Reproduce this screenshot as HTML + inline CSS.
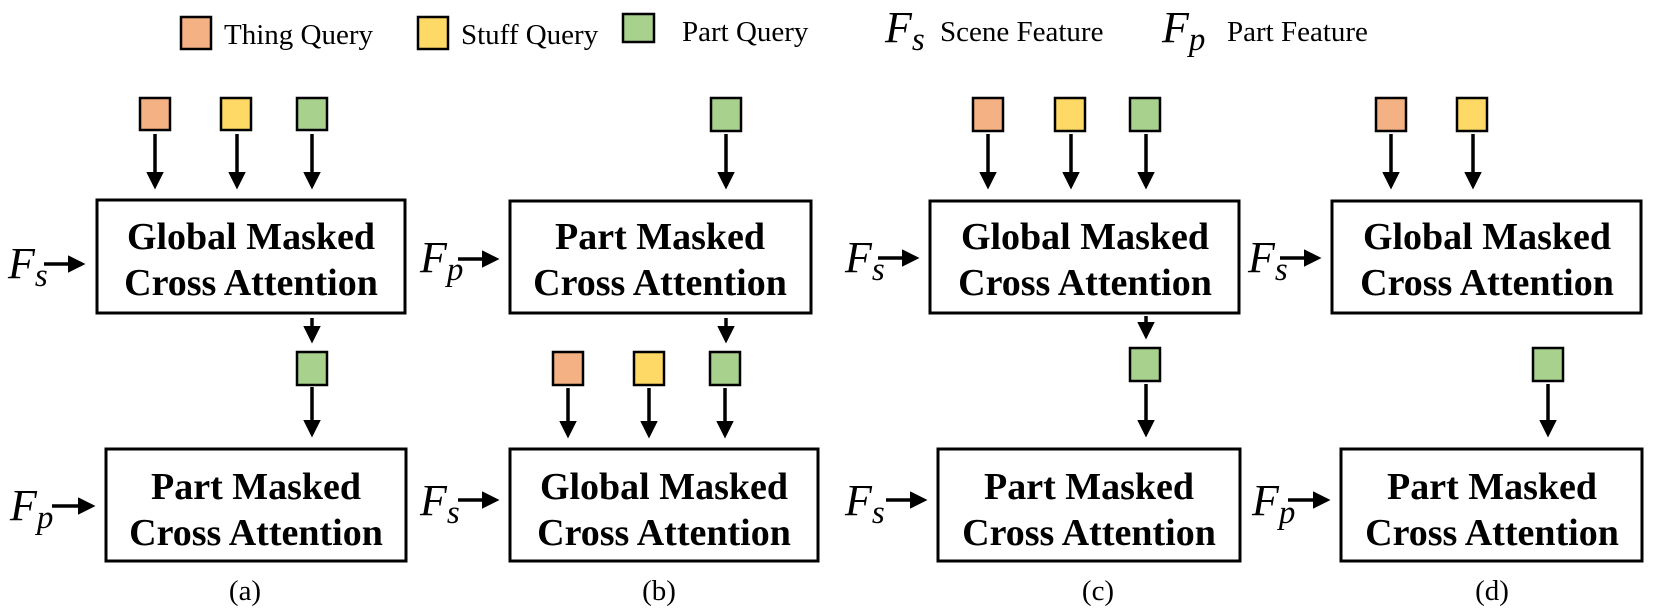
<!DOCTYPE html>
<html><head><meta charset="utf-8"><style>
html,body{margin:0;padding:0;background:#fff;}
svg{display:block;}
.bt{font-family:"Liberation Serif","Times New Roman",serif;font-weight:700;font-size:38px;text-anchor:middle;}
.lg{font-family:"Liberation Serif","Times New Roman",serif;font-size:29px;}
.lg2{font-family:"Liberation Serif","Times New Roman",serif;font-size:29px;}
.f{font-family:"Liberation Serif",serif;font-style:italic;font-size:44px;}
.fs{font-family:"Liberation Serif",serif;font-style:italic;font-size:33px;}
.cap{font-family:"Liberation Serif",serif;font-size:29px;text-anchor:middle;}
.o{fill:#F4B183;stroke:#000;stroke-width:2.5}
.y{fill:#FFD966;stroke:#000;stroke-width:2.5}
.g{fill:#A9D18E;stroke:#000;stroke-width:2.5}
.bx{fill:#fff;stroke:#000;stroke-width:3}
.ar{stroke:#000;stroke-width:3.5;fill:none;marker-end:url(#ah)}
</style></head><body>
<svg width="1662" height="613" viewBox="0 0 1662 613" xmlns="http://www.w3.org/2000/svg">
<defs><marker id="ah" markerWidth="5" markerHeight="5" refX="4" refY="2.5" orient="auto" markerUnits="strokeWidth"><path d="M0,0 L5,2.5 L0,5 z" fill="#000"/></marker></defs>

<!-- legend -->
<rect class="o" x="181" y="17" width="30" height="32"/>
<text class="lg" x="224" y="44">Thing Query</text>
<rect class="y" x="418" y="17" width="30" height="32"/>
<text class="lg" x="461" y="44">Stuff Query</text>
<rect class="g" x="623" y="14" width="31" height="28"/>
<text class="lg" x="682" y="41">Part Query</text>
<text class="f" x="885" y="42">F<tspan class="fs" dy="8">s</tspan></text>
<text class="lg2" x="940" y="41">Scene Feature</text>
<text class="f" x="1162" y="42">F<tspan class="fs" dy="8">p</tspan></text>
<text class="lg2" x="1227" y="41">Part Feature</text>

<!-- (a) -->
<rect class="o" x="140" y="98" width="30" height="32"/>
<rect class="y" x="221" y="98" width="30" height="32"/>
<rect class="g" x="297" y="98" width="30" height="32"/>
<line class="ar" x1="155" y1="134" x2="155" y2="186"/>
<line class="ar" x1="237" y1="134" x2="237" y2="186"/>
<line class="ar" x1="312" y1="134" x2="312" y2="186"/>
<rect class="bx" x="97" y="200" width="308" height="113"/>
<text class="bt" x="251" y="249">Global Masked</text>
<text class="bt" x="251" y="295">Cross Attention</text>
<text class="f" x="8" y="278">F<tspan class="fs" dy="8">s</tspan></text>
<line class="ar" x1="44" y1="264" x2="82" y2="264"/>
<line class="ar" x1="312" y1="318" x2="312" y2="340"/>
<rect class="g" x="297" y="352" width="30" height="33"/>
<line class="ar" x1="312" y1="387" x2="312" y2="434"/>
<rect class="bx" x="106" y="449" width="300" height="112"/>
<text class="bt" x="256" y="499">Part Masked</text>
<text class="bt" x="256" y="545">Cross Attention</text>
<text class="f" x="10" y="520">F<tspan class="fs" dy="8">p</tspan></text>
<line class="ar" x1="52" y1="506" x2="92" y2="506"/>
<text class="cap" x="245" y="600">(a)</text>

<!-- (b) -->
<rect class="g" x="711" y="98" width="30" height="33"/>
<line class="ar" x1="726" y1="134" x2="726" y2="186"/>
<rect class="bx" x="510" y="201" width="301" height="112"/>
<text class="bt" x="660" y="249">Part Masked</text>
<text class="bt" x="660" y="295">Cross Attention</text>
<text class="f" x="420" y="272">F<tspan class="fs" dy="8">p</tspan></text>
<line class="ar" x1="458" y1="259" x2="496" y2="259"/>
<line class="ar" x1="726" y1="318" x2="726" y2="340"/>
<rect class="o" x="553" y="352" width="30" height="33"/>
<rect class="y" x="634" y="352" width="30" height="33"/>
<rect class="g" x="710" y="352" width="30" height="33"/>
<line class="ar" x1="568" y1="388" x2="568" y2="435"/>
<line class="ar" x1="649" y1="388" x2="649" y2="435"/>
<line class="ar" x1="725" y1="388" x2="725" y2="435"/>
<rect class="bx" x="510" y="449" width="308" height="112"/>
<text class="bt" x="664" y="499">Global Masked</text>
<text class="bt" x="664" y="545">Cross Attention</text>
<text class="f" x="420" y="515">F<tspan class="fs" dy="8">s</tspan></text>
<line class="ar" x1="458" y1="500" x2="496" y2="500"/>
<text class="cap" x="659" y="600">(b)</text>

<!-- (c) -->
<rect class="o" x="973" y="98" width="30" height="33"/>
<rect class="y" x="1055" y="98" width="30" height="33"/>
<rect class="g" x="1130" y="98" width="30" height="33"/>
<line class="ar" x1="988" y1="134" x2="988" y2="186"/>
<line class="ar" x1="1071" y1="134" x2="1071" y2="186"/>
<line class="ar" x1="1146" y1="134" x2="1146" y2="186"/>
<rect class="bx" x="930" y="201" width="309" height="112"/>
<text class="bt" x="1085" y="249">Global Masked</text>
<text class="bt" x="1085" y="295">Cross Attention</text>
<text class="f" x="845" y="272">F<tspan class="fs" dy="8">s</tspan></text>
<line class="ar" x1="878" y1="258" x2="916" y2="258"/>
<line class="ar" x1="1146" y1="316" x2="1146" y2="336"/>
<rect class="g" x="1130" y="348" width="30" height="33"/>
<line class="ar" x1="1146" y1="384" x2="1146" y2="434"/>
<rect class="bx" x="938" y="449" width="302" height="112"/>
<text class="bt" x="1089" y="499">Part Masked</text>
<text class="bt" x="1089" y="545">Cross Attention</text>
<text class="f" x="845" y="515">F<tspan class="fs" dy="8" font-style="normal">s</tspan></text>
<line class="ar" x1="886" y1="500" x2="924" y2="500"/>
<text class="cap" x="1098" y="600">(c)</text>

<!-- (d) -->
<rect class="o" x="1376" y="98" width="30" height="33"/>
<rect class="y" x="1457" y="98" width="30" height="33"/>
<line class="ar" x1="1391" y1="134" x2="1391" y2="186"/>
<line class="ar" x1="1473" y1="134" x2="1473" y2="186"/>
<rect class="bx" x="1332" y="201" width="309" height="112"/>
<text class="bt" x="1487" y="249">Global Masked</text>
<text class="bt" x="1487" y="295">Cross Attention</text>
<text class="f" x="1248" y="272">F<tspan class="fs" dy="8">s</tspan></text>
<line class="ar" x1="1280" y1="258" x2="1318" y2="258"/>
<rect class="g" x="1533" y="348" width="30" height="33"/>
<line class="ar" x1="1548" y1="384" x2="1548" y2="434"/>
<rect class="bx" x="1341" y="449" width="301" height="112"/>
<text class="bt" x="1492" y="499">Part Masked</text>
<text class="bt" x="1492" y="545">Cross Attention</text>
<text class="f" x="1252" y="515">F<tspan class="fs" dy="8">p</tspan></text>
<line class="ar" x1="1288" y1="500" x2="1327" y2="500"/>
<text class="cap" x="1492" y="600">(d)</text>
</svg>
</body></html>
